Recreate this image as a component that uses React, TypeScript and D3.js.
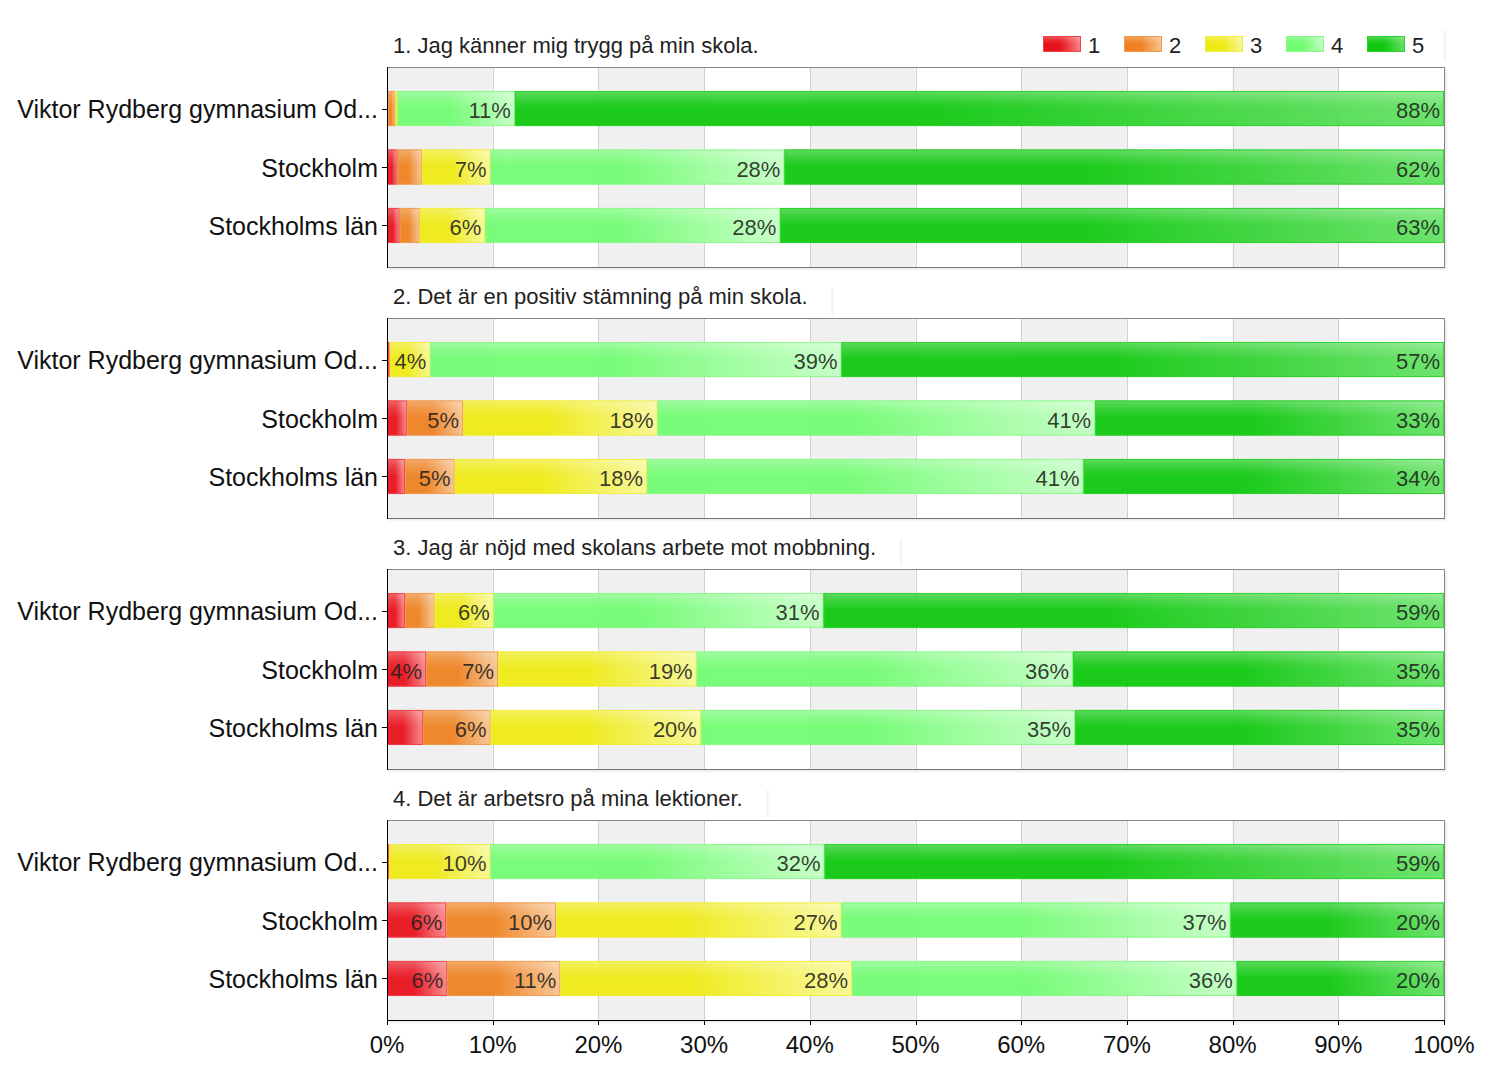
import React, { useEffect, useRef } from "react";
import * as d3 from "d3";

const categories = ["Viktor Rydberg gymnasium Od...", "Stockholm", "Stockholms län"];
const questions = [
  "1. Jag känner mig trygg på min skola.",
  "2. Det är en positiv stämning på min skola.",
  "3. Jag är nöjd med skolans arbete mot mobbning.",
  "4. Det är arbetsro på mina lektioner.",
];
const levels = ["1", "2", "3", "4", "5"];
const q1 = [
  [0.1, 0.7, 0.2, 11.1, 87.9],
  [1.0, 2.3, 6.5, 27.8, 62.4],
  [1.2, 1.9, 6.2, 27.9, 62.8],
];
const q2 = [
  [0.2, 0.1, 3.8, 38.9, 57.0],
  [1.9, 5.3, 18.4, 41.4, 33.0],
  [1.7, 4.7, 18.2, 41.3, 34.1],
];
const q3 = [
  [1.7, 2.8, 5.6, 31.2, 58.7],
  [3.7, 6.8, 18.8, 35.6, 35.1],
  [3.4, 6.4, 19.9, 35.4, 34.9],
];
const q4 = [
  [0.2, 0.0, 9.6, 31.6, 58.6],
  [5.6, 10.4, 27.0, 36.8, 20.2],
  [5.7, 10.7, 27.6, 36.4, 19.6],
];
const panelsData = [q1, q2, q3, q4];
const xTicks = [0, 10, 20, 30, 40, 50, 60, 70, 80, 90, 100];

const baseColors = ["#e8121c", "#ee8222", "#eeea14", "#72fc72", "#10c810"];
const lightColors = ["#f8868a", "#f8c592", "#f8f894", "#c4ffc4", "#66e266"];
const strokeColors = ["#f04048", "#f09a50", "#f0ec40", "#88f888", "#2ad22a"];

const FONT = "'Liberation Sans', Arial, Helvetica, sans-serif";

export default function App() {
  const ref = useRef<SVGSVGElement | null>(null);

  useEffect(() => {
    const svg = d3.select(ref.current);
    svg.selectAll("*").remove();

    const W = 1500, H = 1075;
    const left = 387, right = 1444;
    const firstTop = 67, panelH = 200, panelStep = 251;

    const x = d3.scaleLinear().domain([0, 100]).range([left, right]);
    const y = d3.scaleBand<string>().domain(categories).range([0, panelH]).paddingInner(0.4).paddingOuter(0.41);

    const defs = svg.append("defs");
    levels.forEach((_, i) => {
      const g = defs.append("linearGradient").attr("id", `hg${i}`).attr("x1", 0).attr("y1", 0).attr("x2", 1).attr("y2", 0);
      g.append("stop").attr("offset", "0%").attr("stop-color", baseColors[i]);
      g.append("stop").attr("offset", "45%").attr("stop-color", baseColors[i]);
      g.append("stop").attr("offset", "100%").attr("stop-color", lightColors[i]);
    });
    const vg = defs.append("linearGradient").attr("id", "vgloss").attr("x1", 0).attr("y1", 0).attr("x2", 0).attr("y2", 1);
    vg.append("stop").attr("offset", "0%").attr("stop-color", "#fff").attr("stop-opacity", 0.3);
    vg.append("stop").attr("offset", "50%").attr("stop-color", "#fff").attr("stop-opacity", 0.12);
    vg.append("stop").attr("offset", "100%").attr("stop-color", "#fff").attr("stop-opacity", 0);
    const sh = defs.append("linearGradient").attr("id", "shadowR").attr("x1", 0).attr("y1", 0).attr("x2", 1).attr("y2", 0);
    sh.append("stop").attr("offset", "0%").attr("stop-color", "#000").attr("stop-opacity", 0.07);
    sh.append("stop").attr("offset", "100%").attr("stop-color", "#000").attr("stop-opacity", 0);
    const f = defs.append("filter").attr("id", "blur").attr("x", "-5%").attr("y", "-5%").attr("width", "110%").attr("height", "110%");
    f.append("feGaussianBlur").attr("stdDeviation", 1.5);

    svg.append("rect").attr("width", W).attr("height", H).attr("fill", "#fff");

    panelsData.forEach((rows, p) => {
      const top = firstTop + p * panelStep;
      const g = svg.append("g");

      g.append("rect").attr("x", left + 2).attr("y", top + 2).attr("width", right - left).attr("height", panelH)
        .attr("fill", "#000").attr("opacity", 0.12).attr("filter", "url(#blur)");
      g.append("rect").attr("x", left).attr("y", top).attr("width", right - left).attr("height", panelH).attr("fill", "#fff");

      for (let k = 0; k < 10; k += 2) {
        g.append("rect").attr("x", x(k * 10)).attr("y", top).attr("width", x((k + 1) * 10) - x(k * 10)).attr("height", panelH).attr("fill", "#f0f0f0");
      }
      xTicks.slice(1, -1).forEach((t) => {
        g.append("line").attr("x1", Math.round(x(t)) + 0.5).attr("x2", Math.round(x(t)) + 0.5)
          .attr("y1", top).attr("y2", top + panelH).attr("stroke", "#d0d0d0").attr("stroke-width", 1);
      });

      const title = g.append("text").attr("x", 393).attr("y", top - 14).attr("font-family", FONT).attr("font-size", 22)
        .attr("fill", "#222").text(questions[p]);
      if (p > 0) {
        const tl = (title.node() as SVGTextElement).getComputedTextLength();
        g.append("rect").attr("x", 393 + tl + 24).attr("y", top - 30).attr("width", 3).attr("height", 27).attr("fill", "url(#shadowR)");
      }

      rows.forEach((vals, r) => {
        const cat = categories[r];
        const by = top + (y(cat) as number);
        const bh = y.bandwidth();
        let acc = 0;
        vals.forEach((v, i) => {
          const x0 = x(acc), x1 = x(acc + v);
          acc += v;
          if (v <= 0) return;
          const w = x1 - x0;
          g.append("rect").attr("x", x0).attr("y", by).attr("width", w).attr("height", bh)
            .attr("fill", `url(#hg${i})`).attr("fill-opacity", 0.95);
          g.append("rect").attr("x", x0).attr("y", by).attr("width", w).attr("height", bh / 2)
            .attr("fill", "url(#vgloss)");
          if (w > 2) {
            g.append("rect").attr("x", x0 + 0.5).attr("y", by + 0.5).attr("width", w - 1).attr("height", bh - 1)
              .attr("fill", "none").attr("stroke", strokeColors[i]).attr("stroke-width", 1).attr("stroke-opacity", 0.9);
          }
          if (v >= 3.6) {
            g.append("text").attr("x", x1 - 4).attr("y", by + bh / 2 + 9.5).attr("text-anchor", "end")
              .attr("font-family", FONT).attr("font-size", 22).attr("fill", "#222").attr("fill-opacity", 0.88)
              .text(`${Math.round(v)}%`);
          }
        });
        g.append("text").attr("x", 378).attr("y", by + bh / 2 + 9.5).attr("text-anchor", "end")
          .attr("font-family", FONT).attr("font-size", 25).attr("fill", "#111").text(cat);
        g.append("line").attr("x1", left - 5).attr("x2", left).attr("y1", Math.round(by + bh / 2) + 0.5).attr("y2", Math.round(by + bh / 2) + 0.5)
          .attr("stroke", "#000").attr("stroke-width", 1);
      });

      g.append("line").attr("x1", left).attr("x2", right + 0.5).attr("y1", top + 0.5).attr("y2", top + 0.5).attr("stroke", "#888");
      g.append("line").attr("x1", right + 0.5).attr("x2", right + 0.5).attr("y1", top).attr("y2", top + panelH).attr("stroke", "#888");
      const isLast = p === panelsData.length - 1;
      g.append("line").attr("x1", left).attr("x2", right + 1).attr("y1", top + panelH + 0.5).attr("y2", top + panelH + 0.5)
        .attr("stroke", isLast ? "#000" : "#777");
      g.append("line").attr("x1", left + 0.5).attr("x2", left + 0.5).attr("y1", top).attr("y2", top + panelH + 1).attr("stroke", "#000");

      if (isLast) {
        xTicks.forEach((t) => {
          const tx = Math.round(x(t)) + 0.5;
          g.append("line").attr("x1", tx).attr("x2", tx).attr("y1", top + panelH).attr("y2", top + panelH + 5).attr("stroke", "#000");
          g.append("text").attr("x", x(t)).attr("y", top + panelH + 33).attr("text-anchor", "middle")
            .attr("font-family", FONT).attr("font-size", 24).attr("fill", "#111").text(`${t}%`);
        });
      }
    });

    const lg = svg.append("g");
    lg.append("rect").attr("x", 1444).attr("y", 30).attr("width", 3).attr("height", 31).attr("fill", "url(#shadowR)");
    levels.forEach((l, i) => {
      const lx = 1043 + i * 81;
      lg.append("rect").attr("x", lx).attr("y", 36).attr("width", 38).attr("height", 16).attr("fill", `url(#hg${i})`);
      lg.append("rect").attr("x", lx).attr("y", 36).attr("width", 38).attr("height", 8).attr("fill", "url(#vgloss)");
      lg.append("rect").attr("x", lx + 0.5).attr("y", 36.5).attr("width", 37).attr("height", 15).attr("fill", "none").attr("stroke", strokeColors[i]);
      lg.append("text").attr("x", lx + 45).attr("y", 52.5).attr("font-family", FONT).attr("font-size", 22).attr("fill", "#222").text(l);
    });
  }, []);

  return <svg ref={ref} width={1500} height={1075} style={{ display: "block", position: "absolute", left: 0, top: 0 }} />;
}
